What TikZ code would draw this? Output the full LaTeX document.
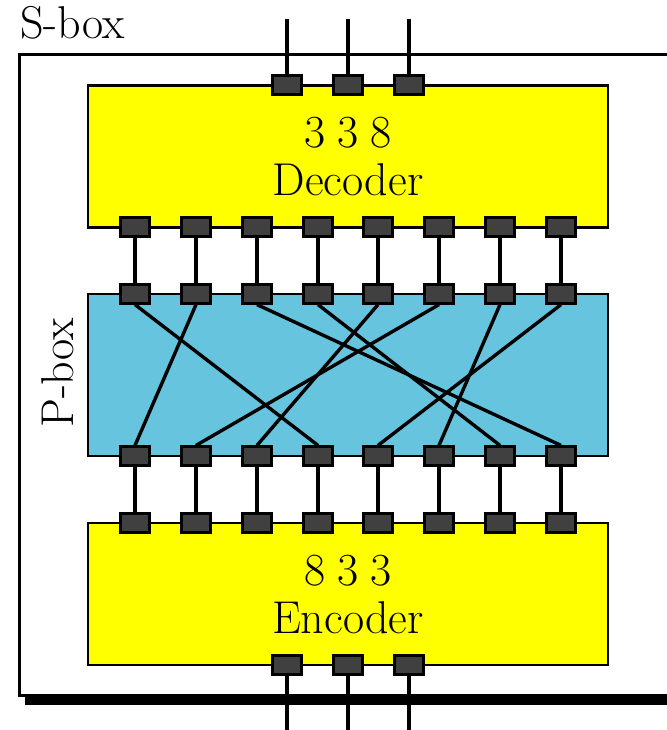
\documentclass[tikz,border=0pt]{standalone}
\usepackage{xcolor}
\usepackage{tikz}
\definecolor{blockyellow}{RGB}{255,255,0}
\definecolor{pboxblue}{HTML}{66C4DE}
\definecolor{pingrey}{HTML}{404040}
\tikzset{
  pin/.style={draw=black,line width=1.1pt,fill=pingrey,minimum width=14.5pt,minimum height=9.5pt,inner sep=0pt},
  wire/.style={draw=black,line width=1.7pt},
  block/.style={draw=black,line width=1.3pt,minimum width=260pt,inner sep=0pt,align=center},
  boxtext/.style={font=\fontsize{23}{24}\selectfont}
}

\begin{document}
\begin{tikzpicture}[x=0.5pt,y=-0.5pt]
    \useasboundingbox (0,0) rectangle (667,730);
    % frame, open on the right
    \draw[line width=1.5pt] (667,54) -- (19,54) -- (19,695) -- (667,695);
    \draw[line width=5pt] (25,700) -- (667,700);
    \node[boxtext,anchor=base west,inner sep=0pt] (sbox) at (20,38.5) {S-box};
    \node[boxtext,rotate=90] (pbox) at (58,373) {P-box};
    % the three blocks
    \node[block,boxtext,fill=blockyellow,minimum height=71pt] (decoder) at (348,156.5) {3\hspace{5.75pt}3\hspace{5.75pt}8\\Decoder};
    \node[block,fill=pboxblue,minimum height=81pt] (perm) at (348,375) {};
    \node[block,boxtext,fill=blockyellow,minimum height=71pt] (encoder) at (348,594) {8\hspace{5.75pt}3\hspace{5.75pt}3\\Encoder};
    % pins between the blocks
    \foreach \i/\x in {1/135,2/196,3/257,4/318,5/378,6/439,7/500,8/561} {
      \node[pin] (dec\i) at (\x,227) {};
      \node[pin] (ptop\i) at (\x,294) {};
      \node[pin] (pbot\i) at (\x,456) {};
      \node[pin] (enc\i) at (\x,523) {};
      \draw[wire] (dec\i) -- (ptop\i);
      \draw[wire] (pbot\i) -- (enc\i);
    }
    % three wires in, three wires out
    \foreach \i/\x in {1/287,2/348,3/409} {
      \node[pin] (in\i) at (\x,85) {};
      \node[pin] (out\i) at (\x,665) {};
      \coordinate (inend\i) at (\x,19);
      \coordinate (outend\i) at (\x,730);
      \draw[wire] (inend\i) -- (in\i);
      \draw[wire] (out\i) -- (outend\i);
    }
    % the permutation
    \foreach \a/\b in {1/4,2/1,3/8,4/7,5/3,6/2,7/6,8/5} {
      \draw[wire] (ptop\a.south) -- (pbot\b.north);
    }
  \end{tikzpicture}
\end{document}
